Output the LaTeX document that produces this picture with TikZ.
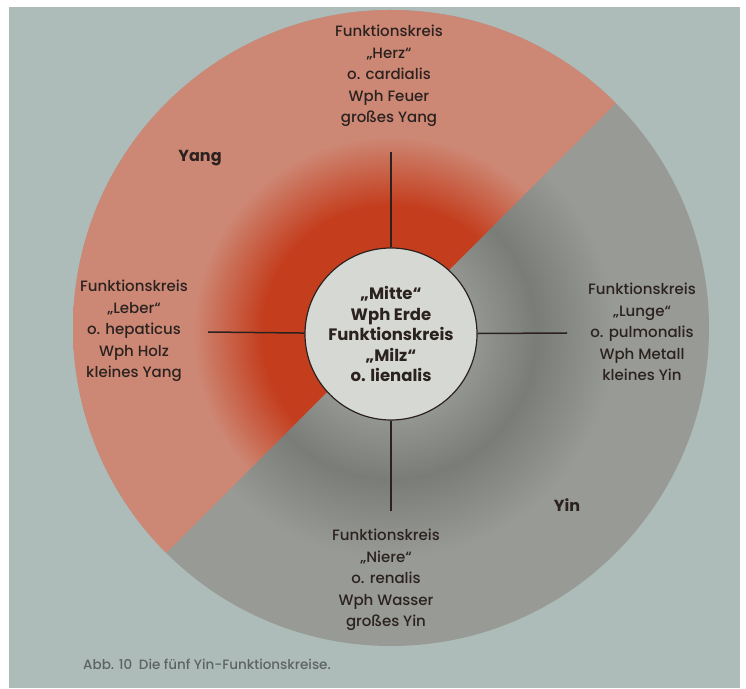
\documentclass[tikz,border=0pt]{standalone}
\usepackage{fontspec}
\IfFontExistsTF{Poppins Medium}
  {\setmainfont{Poppins}[UprightFont=* Medium, BoldFont=* Bold]}
  {\setmainfont{Poppins}}
\definecolor{page}{HTML}{AEBCB9}
\definecolor{salmon}{HTML}{CD8875}
\definecolor{yangred}{HTML}{C43E1E}
\definecolor{yingray}{HTML}{989A96}
\definecolor{yinlight}{HTML}{939591}
\definecolor{yindark}{HTML}{7A7C78}
\definecolor{mittefill}{HTML}{D6D8D4}
\definecolor{ink}{HTML}{2B2220}
\definecolor{capgray}{HTML}{5C6462}
% glow of the two halves round the centre (25bp = radius of the shaded circle)
\pgfdeclareradialshading{yangglow}{\pgfpoint{0bp}{0bp}}{color(0bp)=(yangred); color(9.8bp)=(yangred); color(15bp)=(salmon); color(50bp)=(salmon)}
\pgfdeclareradialshading{yinglow}{\pgfpoint{0bp}{0bp}}{color(0bp)=(yinlight); color(6.6bp)=(yinlight); color(11bp)=(yindark); color(17bp)=(yingray); color(50bp)=(yingray)}

\begin{document}
\begin{tikzpicture}[x=1pt, y=1pt,
  every node/.style={font=\fontsize{15}{21.5}\selectfont, text=ink},
  kreis/.style={align=center, inner sep=0pt},
  pol/.style={font=\fontsize{16}{20}\selectfont\bfseries, inner sep=0pt},
  mitte/.style={circle, draw=ink, line width=1.2pt, fill=mittefill,
    minimum size=172pt, align=center, inner sep=0pt,
    font=\fontsize{16.5}{20.5}\selectfont\bfseries},
  spoke/.style={draw=ink, line width=1.5pt}
]
\useasboundingbox (0,0) rectangle (746,688);
\fill[white] (0,0) rectangle (746,688);
\fill[page] (9,0) rectangle (740,681);
\coordinate (c) at (391,360);
\coordinate (m) at (391,354);
\begin{scope}
  \clip (c) circle (318);
  \shade[shading=yinglow] (m) circle (330);
  \clip (c) ++(45:318) arc[start angle=45, end angle=225, radius=318] -- cycle;
  \shade[shading=yangglow] (m) circle (330);
\end{scope}
\node[mitte] (mitte) at (m) {„Mitte“\\Wph Erde\\Funktionskreis\\„Milz“\\o. lienalis};
\node[kreis] (herz) at (389,612) {Funktionskreis\\„Herz“\\o. cardialis\\Wph Feuer\\großes Yang};
\node[kreis] (leber) at (134,357) {Funktionskreis\\„Leber“\\o. hepaticus\\Wph Holz\\kleines Yang};
\node[kreis] (lunge) at (642,356) {Funktionskreis\\„Lunge“\\o. pulmonalis\\Wph Metall\\kleines Yin};
\node[kreis] (niere) at (386,108) {Funktionskreis\\„Niere“\\o. renalis\\Wph Wasser\\großes Yin};
\node[pol] (yang) at (200,530) {Yang};
\node[pol] (yin) at (567,183) {Yin};
\node[anchor=west, inner sep=0pt, font=\fontsize{13.5}{16}\selectfont, text=capgray] (abb) at (83,24)
  {Abb. 10\enspace Die fünf Yin-Funktionskreise.};
\coordinate (herzend) at (391,536);
\coordinate (niereend) at (391,177);
\coordinate (leberend) at (208,356);
\coordinate (lungeend) at (567,355);
\draw[spoke] (mitte) -- (herzend);
\draw[spoke] (mitte) -- (niereend);
\draw[spoke] (mitte) -- (leberend);
\draw[spoke] (mitte) -- (lungeend);
\end{tikzpicture}
\end{document}
